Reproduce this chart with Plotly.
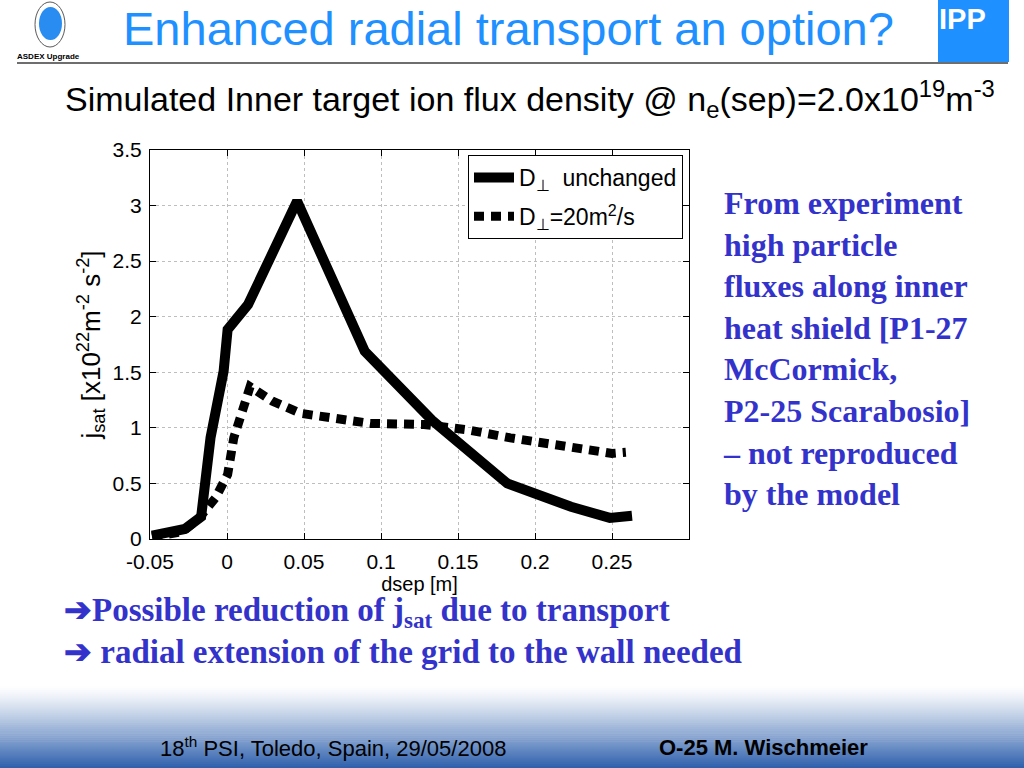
import plotly.graph_objects as go

# ---------------- data ----------------
x_unchanged = [-0.0487, -0.0274, -0.0168, -0.0107, -0.0022, 0.0004, 0.0137, 0.0455, 0.0894, 0.1330, 0.1820, 0.2234, 0.2486, 0.2630]
y_unchanged = [0.03, 0.09, 0.20, 0.91, 1.51, 1.885, 2.11, 3.04, 1.69, 1.07, 0.50, 0.29, 0.19, 0.21]

x_d20 = [-0.0487, -0.0287, -0.0180, -0.0075, 0.0004, 0.0044, 0.0150, 0.0296, 0.0480, 0.0930, 0.1280, 0.1570, 0.1840, 0.2230, 0.2500, 0.2590]
y_d20 = [0.02, 0.066, 0.19, 0.37, 0.58, 0.91, 1.37, 1.24, 1.13, 1.04, 1.03, 0.98, 0.91, 0.82, 0.77, 0.78]

x_ticks = [-0.05, 0, 0.05, 0.1, 0.15, 0.2, 0.25]
x_ticklabels = ["-0.05", "0", "0.05", "0.1", "0.15", "0.2", "0.25"]
y_ticks = [0, 0.5, 1, 1.5, 2, 2.5, 3, 3.5]
y_ticklabels = ["0", "0.5", "1", "1.5", "2", "2.5", "3", "3.5"]

series_names = ["D<sub>⊥</sub>  unchanged", "D<sub>⊥</sub>=20m<sup>2</sup>/s"]

# ---------------- layout helpers ----------------
W, H = 1024, 768
L, R, T, B = 150, 689, 150, 539
PW, PH = R - L, B - T


def px(x):
    return (x - L) / PW


def py(y):
    return (B - y) / PH


SANS = "Liberation Sans, Arial, sans-serif"
SERIF = "Liberation Serif, Times New Roman, serif"
BLUE_T = "rgb(30,144,255)"
BLUE_TXT = "rgb(51,51,204)"

fig = go.Figure()
fig.add_trace(go.Scatter(x=x_unchanged, y=y_unchanged, mode="lines", name=series_names[0], legendgroup="a",
                         line=dict(color="black", width=10)))
fig.add_trace(go.Scatter(x=x_d20, y=y_d20, mode="lines", name=series_names[1], legendgroup="b",
                         line=dict(color="black", width=9, dash="10px,7px")))

shapes = []
# footer gradient
n = 40
y0, y1 = 686, 768
top = (255, 255, 255)
bot = (45, 95, 172)
for i in range(n):
    a = y0 + (y1 - y0) * i / n
    b = y0 + (y1 - y0) * (i + 1) / n
    t = ((i + 0.5) / n) ** 1.2
    c = tuple(round(top[k] + (bot[k] - top[k]) * t) for k in range(3))
    shapes.append(dict(type="rect", xref="paper", yref="paper", x0=px(0), x1=px(W), y0=py(b + 0.5), y1=py(a),
                       fillcolor="rgb(%d,%d,%d)" % c, line=dict(width=0), layer="below"))
# header line
shapes.append(dict(type="line", xref="paper", yref="paper", x0=px(17), x1=px(1008), y0=py(63), y1=py(63),
                   line=dict(color="rgb(110,110,110)", width=2)))
# IPP box
shapes.append(dict(type="rect", xref="paper", yref="paper", x0=px(938), x1=px(1009), y0=py(62), y1=py(0),
                   fillcolor=BLUE_T, line=dict(width=0)))
# ASDEX logo
shapes.append(dict(type="circle", xref="paper", yref="paper", x0=px(35), x1=px(65), y0=py(47), y1=py(2),
                   fillcolor="white", line=dict(color="rgb(90,90,90)", width=1)))
shapes.append(dict(type="circle", xref="paper", yref="paper", x0=px(39), x1=px(62), y0=py(40), y1=py(7),
                   fillcolor="rgb(40,140,240)", line=dict(width=0)))

annotations = [
    dict(text="Enhanced radial transport an option?", x=px(508), y=py(29), xref="paper", yref="paper",
         showarrow=False, xanchor="center", yanchor="middle", font=dict(family=SANS, size=47, color=BLUE_T)),
    dict(text="IPP", x=px(962), y=py(19), xref="paper", yref="paper", showarrow=False,
         xanchor="center", yanchor="middle", font=dict(family=SANS, size=29, color="white", weight="bold")),
    dict(text="ASDEX Upgrade", x=px(48), y=py(56), xref="paper", yref="paper", showarrow=False,
         xanchor="center", yanchor="middle", font=dict(family=SANS, size=8, color="black", weight="bold")),
    dict(text="Simulated Inner target ion flux density @ n<sub>e</sub>(sep)=2.0x10<sup>19</sup>m<sup>-3</sup>",
         x=px(63), y=py(99), xref="paper", yref="paper", showarrow=False, xanchor="left", yanchor="middle",
         font=dict(family=SANS, size=34, color="black")),
    dict(text="From experiment<br>high particle<br>fluxes along inner<br>heat shield [P1-27<br>McCormick,<br>"
              "P2-25 Scarabosio]<br>– not reproduced<br>by the model",
         x=px(721), y=py(183), xref="paper", yref="paper", showarrow=False, xanchor="left", yanchor="top",
         align="left", font=dict(family=SERIF, size=32, color=BLUE_TXT, weight="bold")),
    dict(text="➔Possible reduction of j<sub>sat</sub> due to transport",
         x=px(62), y=py(612), xref="paper", yref="paper", showarrow=False, xanchor="left", yanchor="middle",
         font=dict(family=SERIF, size=33, color=BLUE_TXT, weight="bold")),
    dict(text="➔ radial extension of the grid to the wall needed",
         x=px(62), y=py(652), xref="paper", yref="paper", showarrow=False, xanchor="left", yanchor="middle",
         font=dict(family=SERIF, size=33, color=BLUE_TXT, weight="bold")),
    dict(text="18<sup>th</sup> PSI, Toledo, Spain, 29/05/2008", x=px(333), y=py(747), xref="paper", yref="paper",
         showarrow=False, xanchor="center", yanchor="middle", font=dict(family=SANS, size=22, color="black")),
    dict(text="O-25 M. Wischmeier", x=px(763), y=py(747), xref="paper", yref="paper", showarrow=False,
         xanchor="center", yanchor="middle", font=dict(family=SANS, size=22, color="black", weight="bold")),
]

axis_common = dict(showline=True, linecolor="black", linewidth=1, mirror="ticks", ticks="inside", ticklen=6,
                   tickcolor="black", showgrid=True, gridcolor="rgb(190,190,190)", griddash="dot", gridwidth=1,
                   zeroline=False, tickfont=dict(family=SANS, size=21, color="black"))

fig.update_layout(
    width=W, height=H, margin=dict(l=L, r=W - R, t=T, b=H - B, autoexpand=False),
    paper_bgcolor="white", plot_bgcolor="white",
    xaxis=dict(range=[-0.05, 0.3], tickvals=x_ticks, ticktext=x_ticklabels, ticklabelstandoff=4,
               title=dict(text="dsep [m]", font=dict(family=SANS, size=20, color="black"), standoff=0),
               **axis_common),
    yaxis=dict(range=[0, 3.5], tickvals=y_ticks, ticktext=y_ticklabels, ticklabelstandoff=3,
               title=dict(text="j<sub>sat</sub> [x10<sup>22</sup>m<sup>-2</sup> s<sup>-2</sup>]",
                          font=dict(family=SANS, size=26, color="black"), standoff=4),
               **axis_common),
    legend=dict(x=px(683), y=py(155), xanchor="right", yanchor="top", bgcolor="white", bordercolor="black",
                borderwidth=1, font=dict(family=SANS, size=23, color="black"), itemwidth=40,
                traceorder="grouped", tracegroupgap=6),
    shapes=shapes, annotations=annotations,
)

fig.write_html("out.html", config={"displayModeBar": False},
               post_script="document.body.style.margin='0';document.body.style.overflow='hidden';")
